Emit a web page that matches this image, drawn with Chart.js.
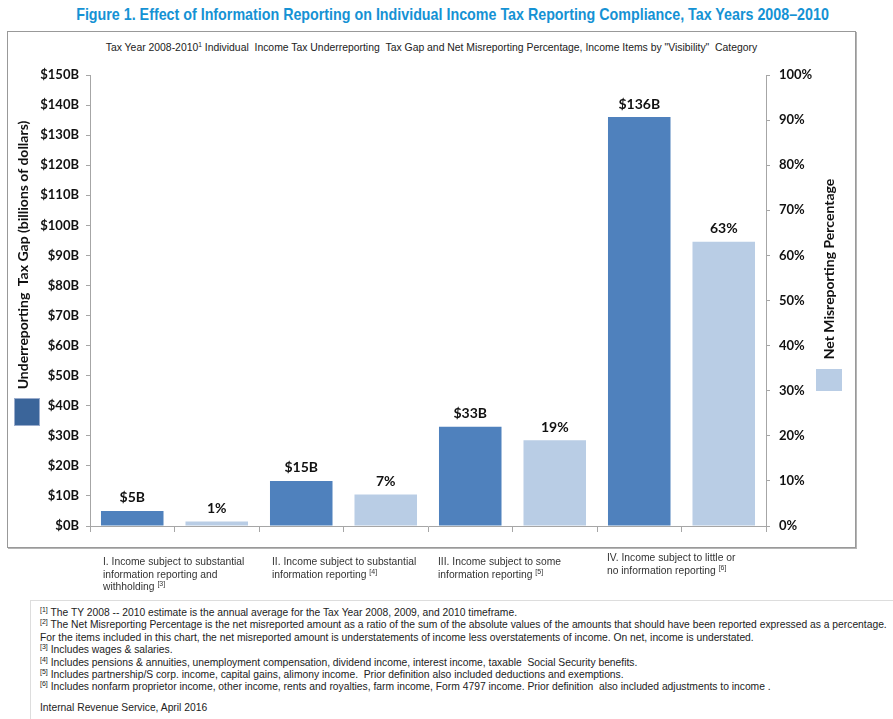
<!DOCTYPE html>
<html>
<head>
<meta charset="utf-8">
<script src="https://cdn.jsdelivr.net/npm/chart.js@4.4.0/dist/chart.umd.min.js"></script>
<style>
  body { margin: 0; width: 893px; height: 719px; background: #fff; position: relative; overflow: hidden;
         font-family: "Liberation Sans", Arial, sans-serif; color: #222; }
  .abs { position: absolute; }
  #title { left: 6px; width: 893px; top: 5px; text-align: center; font-weight: bold; font-size: 16.5px; color: #1592d4;
           transform: scaleX(0.865); white-space: nowrap; }
  #box { left: 7px; top: 31px; width: 847px; height: 515px; border: 1px solid #999; box-shadow: 1px 1px 0 #b5b5b5; }
  #subtitle { left: 7px; width: 849px; top: 41px; text-align: center; font-size: 11px; color: #222;
              transform: scaleX(0.945); white-space: nowrap; }
  #chartWrap { left: 0; top: 0; width: 893px; height: 560px; }
  .cat { font-size: 10.3px; line-height: 12.5px; color: #333; width: 170px; }
  sup { font-size: 7px; vertical-align: 4px; line-height: 0; }
  .ytitle { font-family: Lato, "Open Sans", sans-serif; font-weight: bold; font-size: 14px; color: #111; white-space: nowrap; }
  #notes { left: 30px; top: 600px; width: 863px; height: 119px; border-top: 1px solid #ddd; border-left: 1px solid #ddd; }
  #notesText { left: 40px; top: 607px; font-size: 10.3px; line-height: 12.4px; color: #222; white-space: nowrap; }
</style>
</head>
<body>
<div id="title" class="abs">Figure 1. Effect of Information Reporting on Individual Income Tax Reporting Compliance, Tax Years 2008–2010</div>
<div id="box" class="abs"></div>
<div id="subtitle" class="abs">Tax Year 2008-2010<sup>1</sup> Individual &nbsp;Income Tax Underreporting &nbsp;Tax Gap and Net Misreporting Percentage, Income Items by "Visibility" &nbsp;Category</div>
<div id="chartWrap" class="abs"><canvas id="chart"></canvas></div>
<div class="abs" style="left:14px;top:398px;width:24px;height:26px;background:#3b659a;border:1px solid #9aaccc;"></div>
<div class="abs" style="left:816px;top:369px;width:26px;height:22px;background:#b9cde5;"></div>
<div class="abs ytitle" style="left:22px;top:255px;transform:translate(-50%,-50%) rotate(-90deg);">Underreporting &nbsp;Tax Gap (billions of dollars)</div>
<div class="abs ytitle" style="left:828px;top:269px;transform:translate(-50%,-50%) rotate(-90deg);">Net Misreporting Percentage</div>
<div id="cats"></div>
<div id="notes" class="abs"></div>
<div id="notesText" class="abs">
<sup>[1]</sup> The TY 2008 -- 2010 estimate is the annual average for the Tax Year 2008, 2009, and 2010 timeframe.<br>
<sup>[2]</sup> The Net Misreporting Percentage is the net misreported amount as a ratio of the sum of the absolute values of the amounts that should have been reported expressed as a percentage.<br>
For the items included in this chart, the net misreported amount is understatements of income less overstatements of income. On net, income is understated.<br>
<sup>[3]</sup> Includes wages &amp; salaries.<br>
<sup>[4]</sup> Includes pensions &amp; annuities, unemployment compensation, dividend income, interest income, taxable &nbsp;Social Security benefits.<br>
<sup>[5]</sup> Includes partnership/S corp. income, capital gains, alimony income. &nbsp;Prior definition also included deductions and exemptions.<br>
<sup>[6]</sup> Includes nonfarm proprietor income, other income, rents and royalties, farm income, Form 4797 income. Prior definition &nbsp;also included adjustments to income .<br>
<div style="height:8px"></div>
Internal Revenue Service, April 2016
</div>
<script>
// categories (with footnote refs) and values
const categories = [
  "I. Income subject to substantial information reporting and withholding",
  "II. Income subject to substantial information reporting",
  "III. Income subject to some information reporting",
  "IV. Income subject to little or no information reporting"
];
const categoryLines = [
  ["I. Income subject to substantial", "information reporting and", "withholding"],
  ["II. Income subject to substantial", "information reporting"],
  ["III. Income subject to some", "information reporting"],
  ["IV. Income subject to little or", "no information reporting"]
];
const categoryNotes = ["[3]", "[4]", "[5]", "[6]"];

const taxGap = [5, 15, 33, 136];        // billions of dollars
const misreportPct = [1, 7, 19, 63];    // percent

// two bar slots per category: dollars then percent
const slots = categories.flatMap(c => [c + " (tax gap)", c + " (net misreporting %)"]);
const gapData = taxGap.flatMap(v => [v, null]);
const pctData = misreportPct.flatMap(v => [null, v]);

const catsEl = document.getElementById("cats");
const catLeft = [103, 272, 438, 607];
categoryLines.forEach((lines, i) => {
  const d = document.createElement("div");
  d.className = "abs cat";
  d.style.left = catLeft[i] + "px";
  d.style.top = (i === 3 ? 552 : 556) + "px";
  d.innerHTML = lines.join("<br>") + " <sup>" + categoryNotes[i] + "</sup>";
  catsEl.appendChild(d);
});

const valueLabels = {
  id: "valueLabels",
  afterDatasetsDraw(chart) {
    const ctx = chart.ctx;
    ctx.save();
    ctx.font = "bold 14px Lato";
    ctx.fillStyle = "#111";
    ctx.textAlign = "center";
    ctx.textBaseline = "bottom";
    chart.data.datasets.forEach((ds, di) => {
      const meta = chart.getDatasetMeta(di);
      meta.data.forEach((bar, i) => {
        const v = ds.data[i];
        if (v == null) return;
        const txt = di === 0 ? "$" + v + "B" : v + "%";
        ctx.fillText(txt, bar.x, bar.y - 6);
      });
    });
    ctx.restore();
  }
};

const axisGrey = "#a6a6a6";
const tickFont = { family: "Lato", size: 13, weight: "bold" };

new Chart(document.getElementById("chart"), {
  type: "bar",
  data: {
    labels: slots,
    datasets: [
      {
        label: "Underreporting Tax Gap",
        data: gapData,
        backgroundColor: "#4f81bd",
        yAxisID: "y",
        grouped: false
      },
      {
        label: "Net Misreporting Percentage",
        data: pctData,
        backgroundColor: "#b9cde5",
        yAxisID: "y1",
        grouped: false
      }
    ]
  },
  options: {
    responsive: true,
    maintainAspectRatio: false,
    animation: false,
    barPercentage: 0.74,
    categoryPercentage: 1,
    layout: { padding: { top: 75, left: 0, right: 0, bottom: 0 } },
    plugins: {
      legend: { display: false },
      tooltip: { enabled: false }
    },
    scales: {
      x: {
        afterFit: s => { s.height = 34; },
        ticks: { display: false },
        grid: { drawOnChartArea: false, color: axisGrey, tickLength: 6, offset: true },
        border: { color: axisGrey }
      },
      y: {
        position: "left",
        min: 0,
        max: 150,
        afterFit: s => { s.width = 90; },
        ticks: { stepSize: 10, color: "#111", font: tickFont, padding: 7, callback: v => "$" + v + "B" },
        grid: { drawOnChartArea: false, color: axisGrey, tickLength: 4 },
        border: { color: axisGrey }
      },
      y1: {
        position: "right",
        min: 0,
        max: 100,
        afterFit: s => { s.width = 127; },
        ticks: { stepSize: 10, color: "#111", font: tickFont, padding: 9, callback: v => v + "%" },
        grid: { drawOnChartArea: false, color: axisGrey, tickLength: 4 },
        border: { color: axisGrey }
      }
    }
  },
  plugins: [valueLabels]
});
</script>
</body>
</html>
